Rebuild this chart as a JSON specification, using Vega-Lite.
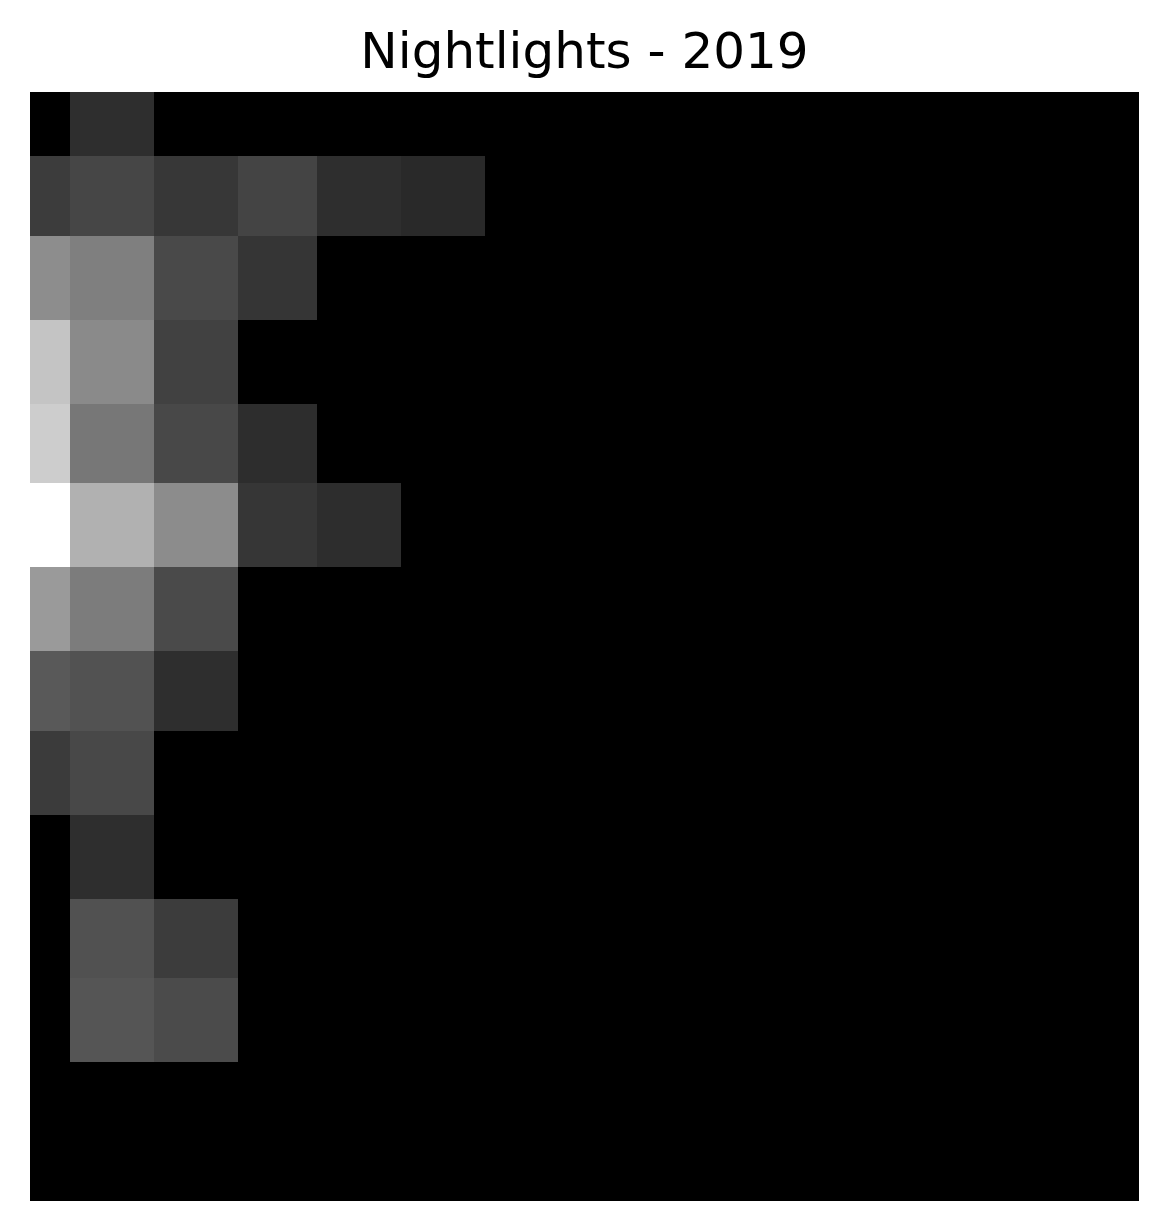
{
  "$schema": "https://vega.github.io/schema/vega-lite/v6.json",
  "width": 1109,
  "height": 1109,
  "padding": {"left": 30, "top": 28, "right": 29, "bottom": 30},
  "background": "white",
  "title": {"text": "Nightlights - 2019", "font": "DejaVu Sans", "fontSize": 50, "fontWeight": "normal", "color": "black", "anchor": "middle", "baseline": "alphabetic", "offset": -26},
  "config": {"view": {"fill": "black", "stroke": null}},
  "data": {"values": [
    {"x0": 40, "x1": 124, "y0": 0, "y1": 64, "v": 46},
    {"x0": 0, "x1": 40, "y0": 64, "y1": 144, "v": 60},
    {"x0": 40, "x1": 124, "y0": 64, "y1": 144, "v": 70},
    {"x0": 124, "x1": 208, "y0": 64, "y1": 144, "v": 55},
    {"x0": 208, "x1": 287, "y0": 64, "y1": 144, "v": 68},
    {"x0": 287, "x1": 371, "y0": 64, "y1": 144, "v": 46},
    {"x0": 371, "x1": 455, "y0": 64, "y1": 144, "v": 41},
    {"x0": 0, "x1": 40, "y0": 144, "y1": 228, "v": 141},
    {"x0": 40, "x1": 124, "y0": 144, "y1": 228, "v": 127},
    {"x0": 124, "x1": 208, "y0": 144, "y1": 228, "v": 73},
    {"x0": 208, "x1": 287, "y0": 144, "y1": 228, "v": 53},
    {"x0": 0, "x1": 40, "y0": 228, "y1": 312, "v": 196},
    {"x0": 40, "x1": 124, "y0": 228, "y1": 312, "v": 138},
    {"x0": 124, "x1": 208, "y0": 228, "y1": 312, "v": 65},
    {"x0": 0, "x1": 40, "y0": 312, "y1": 391, "v": 205},
    {"x0": 40, "x1": 124, "y0": 312, "y1": 391, "v": 119},
    {"x0": 124, "x1": 208, "y0": 312, "y1": 391, "v": 72},
    {"x0": 208, "x1": 287, "y0": 312, "y1": 391, "v": 45},
    {"x0": 0, "x1": 40, "y0": 391, "y1": 475, "v": 255},
    {"x0": 40, "x1": 124, "y0": 391, "y1": 475, "v": 177},
    {"x0": 124, "x1": 208, "y0": 391, "y1": 475, "v": 140},
    {"x0": 208, "x1": 287, "y0": 391, "y1": 475, "v": 54},
    {"x0": 287, "x1": 371, "y0": 391, "y1": 475, "v": 45},
    {"x0": 0, "x1": 40, "y0": 475, "y1": 559, "v": 154},
    {"x0": 40, "x1": 124, "y0": 475, "y1": 559, "v": 124},
    {"x0": 124, "x1": 208, "y0": 475, "y1": 559, "v": 74},
    {"x0": 0, "x1": 40, "y0": 559, "y1": 639, "v": 89},
    {"x0": 40, "x1": 124, "y0": 559, "y1": 639, "v": 82},
    {"x0": 124, "x1": 208, "y0": 559, "y1": 639, "v": 46},
    {"x0": 0, "x1": 40, "y0": 639, "y1": 723, "v": 59},
    {"x0": 40, "x1": 124, "y0": 639, "y1": 723, "v": 72},
    {"x0": 40, "x1": 124, "y0": 723, "y1": 807, "v": 46},
    {"x0": 40, "x1": 124, "y0": 807, "y1": 886, "v": 81},
    {"x0": 124, "x1": 208, "y0": 807, "y1": 886, "v": 60},
    {"x0": 40, "x1": 124, "y0": 886, "y1": 970, "v": 85},
    {"x0": 124, "x1": 208, "y0": 886, "y1": 970, "v": 75}
  ]},
  "mark": {"type": "rect", "strokeWidth": 0},
  "encoding": {
    "x": {"field": "x0", "type": "quantitative", "scale": {"domain": [0, 1109], "nice": false, "zero": false}, "axis": null},
    "x2": {"field": "x1"},
    "y": {"field": "y0", "type": "quantitative", "scale": {"domain": [0, 1109], "nice": false, "zero": false, "reverse": true}, "axis": null},
    "y2": {"field": "y1"},
    "color": {"field": "v", "type": "quantitative", "scale": {"domain": [0, 255], "range": ["#000000", "#ffffff"], "interpolate": "rgb"}, "legend": null}
  }
}
